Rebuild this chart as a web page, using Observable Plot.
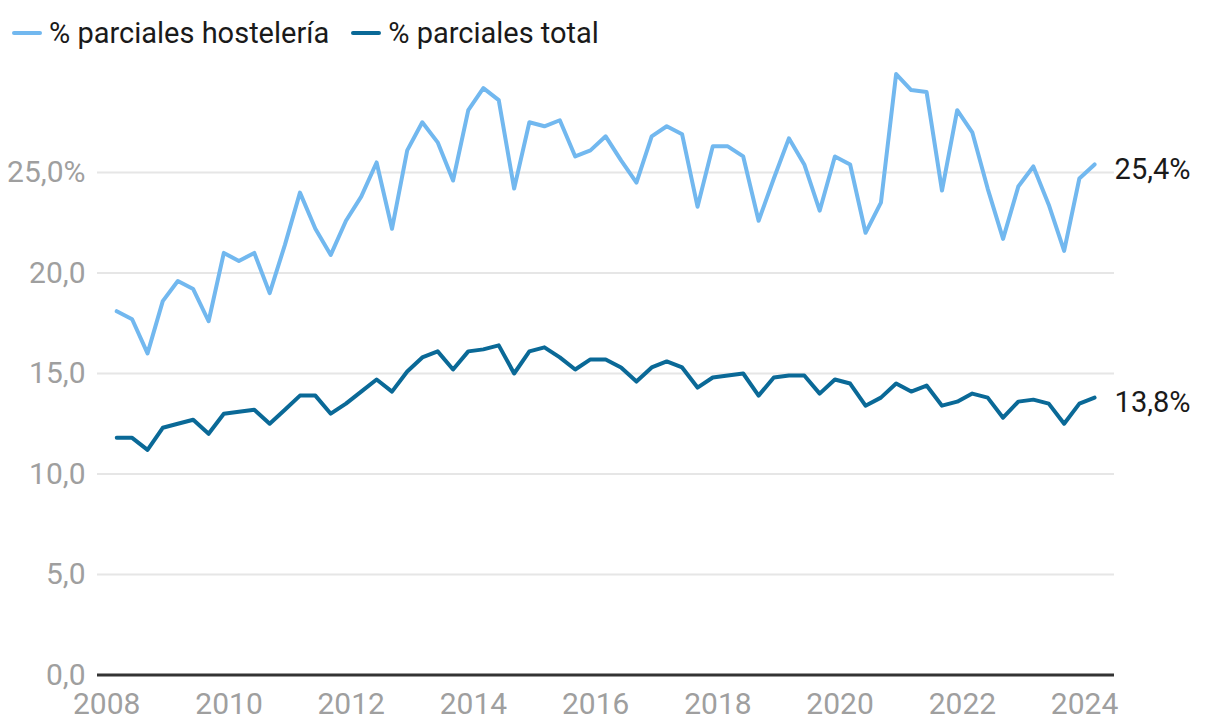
<!DOCTYPE html>
<html>
<head>
<meta charset="utf-8">
<script src="https://cdn.jsdelivr.net/npm/d3@7"></script>
<script src="https://cdn.jsdelivr.net/npm/@observablehq/plot@0.6"></script>
<style>
  body { margin: 0; background: #fff; font-family: Roboto, "Noto Sans", sans-serif; }
  #legend { height: 66px; display: flex; align-items: center; padding-left: 12px; box-sizing: border-box; }
  .item { display: inline-flex; align-items: center; margin-right: 22px; font-size: 29px; color: #1a1a1a; }
  .sw { display: inline-block; width: 30px; height: 4px; border-radius: 2px; margin-right: 7px; }
  #chart svg { display: block; }
</style>
</head>
<body>
<div id="legend"></div>
<div id="chart"></div>
<script>
// ---- data (quarterly, 2008 T1 – 2024 T1) ----
const seriesNames = ["% parciales hostelería", "% parciales total"];
const seriesColors = ["#72b8ef", "#0a6997"];
const firstYear = 2008;
const hosteleria = [
  18.1, 17.7, 16.0, 18.6,
  19.6, 19.2, 17.6, 21.0,
  20.6, 21.0, 19.0, 21.4,
  24.0, 22.2, 20.9, 22.6,
  23.8, 25.5, 22.2, 26.1,
  27.5, 26.5, 24.6, 28.1,
  29.2, 28.6, 24.2, 27.5,
  27.3, 27.6, 25.8, 26.1,
  26.8, 25.6, 24.5, 26.8,
  27.3, 26.9, 23.3, 26.3,
  26.3, 25.8, 22.6, 24.7,
  26.7, 25.4, 23.1, 25.8,
  25.4, 22.0, 23.5, 29.9,
  29.1, 29.0, 24.1, 28.1,
  27.0, 24.2, 21.7, 24.3,
  25.3, 23.4, 21.1, 24.7,
  25.4
];
const total = [
  11.8, 11.8, 11.2, 12.3,
  12.5, 12.7, 12.0, 13.0,
  13.1, 13.2, 12.5, 13.2,
  13.9, 13.9, 13.0, 13.5,
  14.1, 14.7, 14.1, 15.1,
  15.8, 16.1, 15.2, 16.1,
  16.2, 16.4, 15.0, 16.1,
  16.3, 15.8, 15.2, 15.7,
  15.7, 15.3, 14.6, 15.3,
  15.6, 15.3, 14.3, 14.8,
  14.9, 15.0, 13.9, 14.8,
  14.9, 14.9, 14.0, 14.7,
  14.5, 13.4, 13.8, 14.5,
  14.1, 14.4, 13.4, 13.6,
  14.0, 13.8, 12.8, 13.6,
  13.7, 13.5, 12.5, 13.5,
  13.8
];
const xTickYears = [2008, 2010, 2012, 2014, 2016, 2018, 2020, 2022, 2024];
const yTicks = [0, 5, 10, 15, 20, 25];

// ---- table ----
const periodDate = i => new Date(Date.UTC(firstYear + Math.floor(i / 4), (i % 4) * 3 + 2, 1));
const rows = [];
[hosteleria, total].forEach((vals, s) => {
  vals.forEach((v, i) => rows.push({ date: periodDate(i), value: v, series: seriesNames[s] }));
});
const lastRows = seriesNames.map((name, s) => {
  const vals = [hosteleria, total][s];
  return { date: periodDate(vals.length - 1), value: vals[vals.length - 1], series: name };
});

const fmt = v => v.toFixed(1).replace(".", ",");

// ---- legend ----
const legend = document.getElementById("legend");
seriesNames.forEach((n, i) => {
  const it = document.createElement("span");
  it.className = "item";
  const sw = document.createElement("span");
  sw.className = "sw";
  sw.style.background = seriesColors[i];
  it.appendChild(sw);
  it.appendChild(document.createTextNode(n));
  legend.appendChild(it);
});

// ---- chart ----
const chart = Plot.plot({
  width: 1220,
  height: 660,
  marginLeft: 97,
  marginRight: 106,
  marginTop: 5.5,
  marginBottom: 51.5,
  style: { fontFamily: "Roboto, sans-serif", fontSize: "30px", color: "#9f9f9f", background: "#fff" },
  x: { type: "utc", domain: [new Date(Date.UTC(2007, 10, 7)), new Date(Date.UTC(2024, 5, 28))] },
  y: { domain: [0, 30] },
  color: { domain: seriesNames, range: seriesColors },
  marks: [
    Plot.ruleY(yTicks.filter(d => d > 0), { stroke: "#e6e6e6", strokeWidth: 2 }),
    Plot.ruleY([0], { stroke: "#333", strokeWidth: 3 }),
    Plot.axisY({
      ticks: yTicks, tickSize: 0, tickPadding: 12, fontSize: 30,
      tickFormat: d => d === 25 ? fmt(d) + "%" : fmt(d), label: null
    }),
    Plot.axisX({
      ticks: xTickYears.map(y => new Date(Date.UTC(y, 0, 1))), tickSize: 0, tickPadding: 17.5, fontSize: 30,
      tickFormat: d => String(d.getUTCFullYear()), label: null
    }),
    Plot.line(rows, {
      x: "date", y: "value", z: "series", stroke: "series",
      strokeWidth: 4, strokeLinejoin: "round", strokeLinecap: "round"
    }),
    Plot.text(lastRows, {
      x: "date", y: "value", text: d => fmt(d.value) + "%",
      textAnchor: "start", dx: 20, dy: 5, fontSize: 29, fill: "#1a1a1a"
    })
  ]
});
document.getElementById("chart").appendChild(chart);
</script>
</body>
</html>
